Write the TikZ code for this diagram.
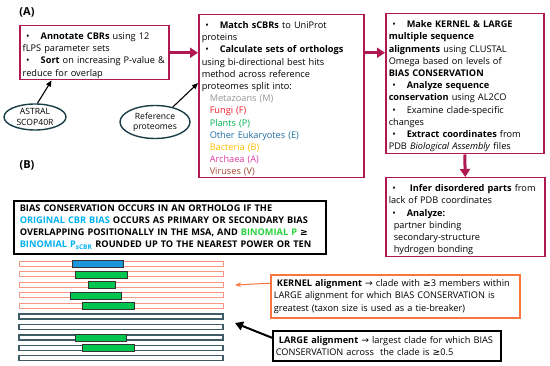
\documentclass[tikz,border=0pt]{standalone}
\usepackage{fontspec}
\setmainfont{Open Sans}
\newfontfamily\symfont{DejaVu Sans}
\usetikzlibrary{arrows.meta,positioning,shapes.geometric}
\definecolor{Crimson}{RGB}{176,24,82}
\definecolor{OvalTeal}{RGB}{25,62,72}
\definecolor{SalmonBar}{RGB}{248,150,130}
\definecolor{TealBar}{RGB}{62,92,102}
\definecolor{SegBlue}{RGB}{28,150,218}
\definecolor{SegGreen}{RGB}{0,198,80}
\definecolor{KernOrange}{RGB}{250,118,62}
\definecolor{MetaGray}{RGB}{150,150,150}
\definecolor{FungiRed}{RGB}{240,30,40}
\definecolor{PlantGreen}{RGB}{0,176,80}
\definecolor{EukBlue}{RGB}{30,110,160}
\definecolor{BactOrange}{RGB}{255,190,0}
\definecolor{ArchMagenta}{RGB}{220,60,160}
\definecolor{VirBrown}{RGB}{160,70,45}
\definecolor{CyanText}{RGB}{0,176,240}
\definecolor{BinGreen}{RGB}{40,210,60}
\newcommand{\bitem}{\par\hangindent=18pt\hangafter=1\noindent\makebox[18pt][l]{\hspace{3.5pt}\textbullet}}
\newcommand{\sym}[1]{{\symfont #1}}

\begin{document}
\begin{tikzpicture}[x=1pt, y=-1pt,
    cbox/.style={draw=Crimson, line width=1.5pt, align=left, inner xsep=3pt, inner ysep=0pt, anchor=north west, font=\fontsize{9.2}{12.2}\selectfont},
    oval/.style={ellipse, draw=OvalTeal, line width=1.4pt, align=center, inner sep=0pt, font=\fontsize{8.6}{10.5}\selectfont},
    warrow/.style={-{Triangle[length=8pt, width=10pt]}, line width=3pt, draw=Crimson},
    tarrow/.style={-{Triangle[length=6pt, width=5pt]}, line width=1.1pt, draw=black},
    notebox/.style={draw, line width=1.6pt, align=left, inner xsep=3pt, inner ysep=0pt, anchor=north west, font=\fontsize{9.2}{12.4}\selectfont}
  ]
    \useasboundingbox (0,0) rectangle (550,366);

    \node[font=\bfseries\fontsize{11}{12}\selectfont] (labA) at (27,12) {(A)};
    \node[font=\bfseries\fontsize{11}{12}\selectfont] (labB) at (27,165) {(B)};

    \node[cbox, text width=143pt, minimum height=54pt] (annot) at (19,25) {%
      \bitem\textbf{Annotate CBRs} using 12\\fLPS parameter sets
      \bitem\textbf{Sort} on increasing P-value \&\\reduce for overlap};
    \node[cbox, text width=159pt, minimum height=163pt] (ortho) at (198,14) {%
      \bitem\textbf{Match sCBRs} to UniProt\\proteins
      \bitem\textbf{Calculate sets of orthologs}\\using bi-directional best hits\\method across reference\\proteomes split into:\\
      \hspace*{8pt}{\color{MetaGray}Metazoans (M)}\\
      \hspace*{8pt}{\color{FungiRed}Fungi (F)}\\
      \hspace*{8pt}{\color{PlantGreen}Plants (P)}\\
      \hspace*{8pt}{\color{EukBlue}Other Eukaryotes (E)}\\
      \hspace*{8pt}{\color{BactOrange}Bacteria (B)}\\
      \hspace*{8pt}{\color{ArchMagenta}Archaea (A)}\\
      \hspace*{8pt}{\color{VirBrown}Viruses (V)}};
    \node[cbox, text width=152pt, minimum height=140pt] (msa) at (385,13) {%
      \bitem\textbf{Make KERNEL \& LARGE}\\\textbf{multiple sequence}\\\textbf{alignments} using CLUSTAL\\Omega based on levels of\\\textbf{BIAS CONSERVATION}
      \bitem\textbf{Analyze sequence}\\\textbf{conservation} using AL2CO
      \bitem Examine clade-specific\\changes
      \bitem\textbf{Extract coordinates} from\\PDB \textit{Biological Assembly} files};
    \node[cbox, text width=153pt, minimum height=79pt] (disorder) at (385,177) {%
      \bitem\textbf{\ Infer disordered parts} from\\lack of PDB coordinates
      \bitem\textbf{Analyze:}\\
      \hspace*{5pt}partner binding\\
      \hspace*{5pt}secondary-structure\\
      \hspace*{5pt}hydrogen bonding};

    \node[oval, minimum width=62pt, minimum height=26pt] (astral) at (35,117) {ASTRAL\\SCOP40R};
    \node[oval, minimum width=70pt, minimum height=33pt] (refprot) at (155,122) {Reference\\proteomes};

    \draw[warrow] (annot.east) -- (annot.east -| ortho.west);
    \draw[warrow] (ortho.east |- annot.east) -- (msa.west |- annot.east);
    \draw[warrow] (msa.south) -- (disorder.north);
    \draw[tarrow] (astral.80) -- (annot.213.7);
    \draw[tarrow] (refprot.40) -- (ortho.171.5);

    % (B) bias conservation definition
    \node[notebox, inner xsep=6pt, text width=300pt, minimum height=53pt, font=\bfseries\fontsize{9.2}{12}\selectfont] (biasdef) at (13,200) {%
      BIAS CONSERVATION OCCURS IN AN ORTHOLOG IF THE\\
      {\color{CyanText}ORIGINAL CBR BIAS} OCCURS AS PRIMARY OR SECONDARY BIAS\\
      OVERLAPPING POSITIONALLY IN THE MSA, AND {\color{BinGreen}BINOMIAL P} \sym{≥}\\
      {\color{CyanText}BINOMIAL P\textsubscript{sCBR}} ROUNDED UP TO THE NEAREST POWER OR TEN};

    % alignment rows
    \foreach \y in {264,274.5,285,295.5,306}
      \draw[SalmonBar, line width=1pt] (19,\y-2.5) rectangle (223,\y+2.5);
    \foreach \y in {316.5,327,337.5,348,358}
      \draw[TealBar, line width=1.2pt] (19,\y-2.5) rectangle (223,\y+2.5);
    \draw[fill=SegBlue, draw=black!80, line width=0.8pt] (72,260.5) rectangle (123,267.5);
    \foreach \a/\b/\y in {75/127/274.5, 88/115/285, 70/121/295.5, 82/134/306, 75/126/337.5, 82/134/348}
      \draw[fill=SegGreen, draw=black!80, line width=0.8pt] (\a,\y-3.5) rectangle (\b,\y+3.5);

    \node[notebox, draw=KernOrange, line width=1.8pt, text width=243pt, minimum height=43pt] (kernel) at (270,274) {%
      \textbf{\ KERNEL alignment} \sym{→} clade with \sym{≥}3 members within\\
      LARGE alignment for which BIAS CONSERVATION is\\
      greatest (taxon size is used as a tie-breaker)};
    \node[notebox, text width=222pt, minimum height=30pt] (large) at (272,330) {%
      \textbf{\ LARGE alignment} \sym{→} largest clade for which BIAS\\
      CONSERVATION across\ \ the clade is \sym{≥}0.5};

    \coordinate (kend) at (235,285);
    \coordinate (lend) at (235,323);
    \draw[-{Stealth[length=6pt]}, KernOrange, line width=1pt] (kernel.174) -- (kend);
    \draw[-{Triangle[length=8pt, width=9pt]}, line width=2pt] (large.176.5) -- (lend);
  \end{tikzpicture}
\end{document}
